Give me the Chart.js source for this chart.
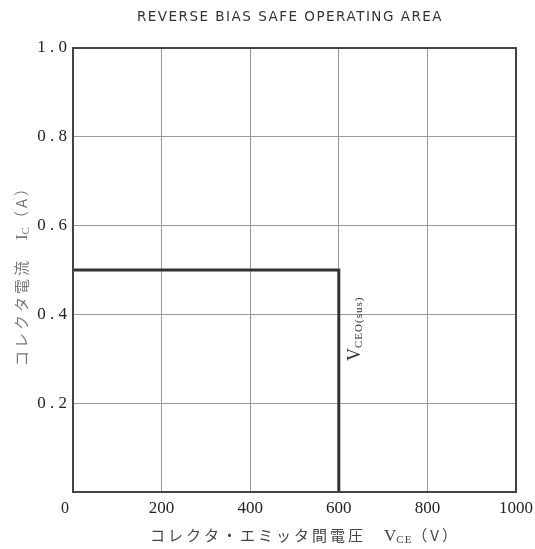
<!DOCTYPE html>
<html><head><meta charset="utf-8">
<script src="https://cdn.jsdelivr.net/npm/chart.js@4"></script>
<style>html,body{margin:0;padding:0;background:#fff}#w{width:535px;height:549px}</style>
</head><body><div id="w"><canvas id="c"></canvas></div>
<script>
const title = "REVERSE BIAS SAFE OPERATING AREA";
const xTicks = [0, 200, 400, 600, 800, 1000];
const yTicks = [0, 0.2, 0.4, 0.6, 0.8, 1.0];
const vce = [0, 600, 600];
const ic = [0.5, 0.5, 0];
const limitLabel = ["V", "CEO(sus)"];
const xTitle = ["コレクタ・エミッタ間電圧　", "V", "CE", "（V）"];
const yTitle = ["コレクタ電流　", "I", "C", "（A）"];

const serif = '"Liberation Serif", "DejaVu Serif", serif';
const jp = '"Noto Sans CJK JP", sans-serif';

function drawRuns(ctx, runs, x, y, align) {
  let total = 0;
  runs.forEach(r => { ctx.font = r.font; ctx.letterSpacing = (r.ls || 0) + 'px'; r.w = ctx.measureText(r.t).width; total += r.w; });
  let cx = align === 'center' ? x - total / 2 : x;
  runs.forEach(r => { ctx.font = r.font; ctx.letterSpacing = (r.ls || 0) + 'px'; ctx.fillText(r.t, cx, y + (r.dy || 0)); cx += r.w; });
  ctx.letterSpacing = '0px';
}

const textPlugin = {
  id: 'texts',
  afterDraw(chart) {
    const ctx = chart.ctx;
    const xs = chart.scales.x, ys = chart.scales.y;
    ctx.save();
    ctx.fillStyle = '#333';
    ctx.textBaseline = 'alphabetic';
    // title
    ctx.font = '13.5px "DejaVu Sans", sans-serif';
    ctx.letterSpacing = '1.5px';
    ctx.textAlign = 'center';
    ctx.fillText(title, 290, 21);
    ctx.letterSpacing = '0px';
    // origin label
    ctx.font = '16px ' + serif;
    ctx.fillStyle = '#222';
    ctx.fillText('0', xs.left - 8, 513);
    ctx.textAlign = 'left';
    // x title
    ctx.fillStyle = '#444';
    drawRuns(ctx, [
      {t: xTitle[0], font: '15px ' + jp, ls: 3},
      {t: xTitle[1], font: '17px ' + serif},
      {t: xTitle[2], font: '11px ' + serif, dy: 2, ls: 1},
      {t: xTitle[3], font: '15px ' + jp, ls: 3}
    ], 305, 541, 'center');
    // y title
    ctx.save();
    ctx.translate(27, 272);
    ctx.rotate(-Math.PI / 2);
    ctx.fillStyle = '#777';
    drawRuns(ctx, [
      {t: yTitle[0], font: '15px ' + jp, ls: 3},
      {t: yTitle[1], font: '17px ' + serif},
      {t: yTitle[2], font: '11px ' + serif, dy: 2, ls: 1},
      {t: yTitle[3], font: '15px ' + jp, ls: 3}
    ], 0, 0, 'center');
    ctx.restore();
    // limit label
    ctx.save();
    ctx.translate(xs.getPixelForValue(600) + 21, 361);
    ctx.rotate(-Math.PI / 2);
    ctx.fillStyle = '#333';
    drawRuns(ctx, [
      {t: limitLabel[0], font: '18px ' + serif},
      {t: limitLabel[1], font: '11px ' + serif, dy: 2, ls: 1}
    ], 0, 0, 'left');
    ctx.restore();
    // frame
    ctx.strokeStyle = '#444';
    ctx.lineWidth = 2;
    ctx.strokeRect(xs.left, ys.top, xs.right - xs.left, ys.bottom - ys.top);
    ctx.restore();
  }
};

new Chart(document.getElementById('c'), {
  type: 'scatter',
  data: {
    datasets: [{
      data: vce.map((v, i) => ({x: v, y: ic[i]})),
      showLine: true,
      borderColor: '#333',
      borderWidth: 3,
      pointRadius: 0,
      fill: false,
      tension: 0,
      borderJoinStyle: 'miter'
    }]
  },
  options: {
    responsive: true,
    maintainAspectRatio: false,
    animation: false,
    layout: {padding: {top: 48, right: 19, bottom: 0, left: 0}},
    plugins: {legend: {display: false}, tooltip: {enabled: false}},
    scales: {
      x: {
        type: 'linear', min: 0, max: 1000,
        afterBuildTicks: s => { s.ticks = xTicks.map(v => ({value: v})); },
        afterFit: s => { s.height = 57; s.paddingLeft = 0; s.paddingRight = 0; },
        grid: {color: '#999', lineWidth: 1, drawTicks: false},
        border: {display: false},
        ticks: {
          padding: 6, color: '#222', maxRotation: 0,
          font: {family: serif, size: 17},
          callback: v => v === 0 ? '' : String(v)
        }
      },
      y: {
        type: 'linear', min: 0, max: 1,
        afterBuildTicks: s => { s.ticks = yTicks.map(v => ({value: v})); },
        afterFit: s => { s.width = 73; s.paddingTop = 0; s.paddingBottom = 0; },
        grid: {color: '#999', lineWidth: 1, drawTicks: false},
        border: {display: false},
        ticks: {
          padding: 6, color: '#222',
          font: {family: serif, size: 17},
          callback: v => v === 0 ? '' : v.toFixed(1).replace('.', ' . ')
        }
      }
    }
  },
  plugins: [textPlugin]
});
</script></body></html>
